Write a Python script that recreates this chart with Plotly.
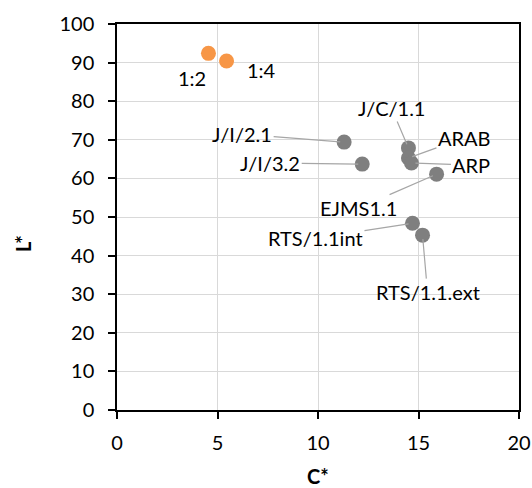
import plotly.graph_objects as go

# ---- data ----
orange_labels = ["1:2", "1:4"]
orange_c = [4.55, 5.45]
orange_l = [92.4, 90.4]

gray_labels = ["J/I/2.1", "J/I/3.2", "J/C/1.1", "ARAB", "ARP", "EJMS1.1", "RTS/1.1int", "RTS/1.1.ext"]
gray_c = [11.3, 12.2, 14.5, 14.5, 14.65, 15.9, 14.7, 15.2]
gray_l = [69.4, 63.7, 67.9, 65.3, 64.0, 61.1, 48.4, 45.3]

x_ticks = [0, 5, 10, 15, 20]
y_ticks = [0, 10, 20, 30, 40, 50, 60, 70, 80, 90, 100]

# ---- styling / label placement (pixel offsets) ----
FONT = "Lato, 'Open Sans', sans-serif"
ORANGE = "#F79646"
GRAY = "#7F7F7F"
LEADER = "#A6A6A6"
orange_shift = {"1:2": (-16, -25), "1:4": (35, -9)}
gray_offset = {
    "J/I/2.1": (-102, -8),
    "J/I/3.2": (-92, -1),
    "J/C/1.1": (-17, -40),
    "ARAB": (56, -20),
    "ARP": (60, 2),
    "EJMS1.1": (-78, 34),
    "RTS/1.1int": (-97, 15),
    "RTS/1.1.ext": (5, 57),
}

fig = go.Figure()
fig.add_trace(go.Scatter(x=orange_c, y=orange_l, mode="markers",
                         marker=dict(color=ORANGE, size=15), showlegend=False))
fig.add_trace(go.Scatter(x=gray_c, y=gray_l, mode="markers",
                         marker=dict(color=GRAY, size=15), showlegend=False))

annotations = []
for lab, cx, ly in zip(orange_labels, orange_c, orange_l):
    dx, dy = orange_shift[lab]
    annotations.append(dict(x=cx, y=ly, xref="x", yref="y", text=lab, showarrow=False,
                            xshift=dx, yshift=dy, font=dict(family=FONT, size=20, color="#000")))
for lab, cx, ly in zip(gray_labels, gray_c, gray_l):
    ax, ay = gray_offset[lab]
    annotations.append(dict(x=cx, y=ly, xref="x", yref="y", text=lab, showarrow=True,
                            arrowhead=0, arrowwidth=1.2, arrowcolor=LEADER, standoff=4,
                            ax=ax, ay=ay, font=dict(family=FONT, size=20, color="#000")))
annotations.append(dict(x=0.5, y=0, xref="paper", yref="paper", text="<b>C*</b>",
                        showarrow=False, xanchor="center", yanchor="middle", yshift=-66,
                        font=dict(family=FONT, size=20, color="#000")))
annotations.append(dict(x=0, y=0.5, xref="paper", yref="paper", text="<b>L*</b>",
                        showarrow=False, textangle=-90, xanchor="center", yanchor="middle",
                        xshift=-94, yshift=-27,
                        font=dict(family=FONT, size=20, color="#000")))

axis_common = dict(showline=True, linecolor="#000", linewidth=1.5, mirror=True,
                   ticks="outside", ticklen=7, tickwidth=1.5, tickcolor="#000",
                   showgrid=True, gridcolor="#D9D9D9", gridwidth=1, zeroline=False,
                   automargin=False,
                   tickfont=dict(family=FONT, size=20, color="#000"))

fig.update_layout(
    width=532, height=488,
    margin=dict(l=117, r=13, t=24, b=78),
    paper_bgcolor="white", plot_bgcolor="white",
    xaxis=dict(range=[0, 20], tickvals=x_ticks, ticklabelstandoff=7, **axis_common),
    yaxis=dict(range=[0, 100], tickvals=y_ticks, ticklabelstandoff=10, **axis_common),
    annotations=annotations,
)

fig.write_html("out.html")
